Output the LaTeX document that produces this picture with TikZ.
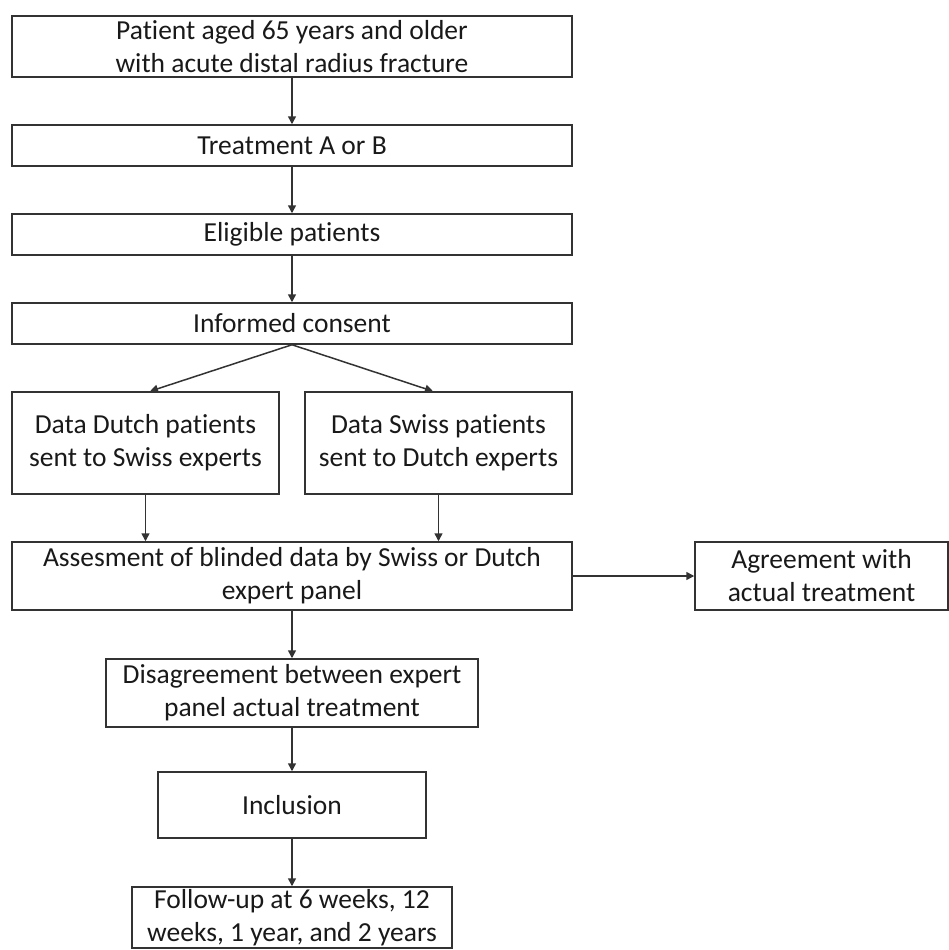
\documentclass[tikz,border=0pt]{standalone}
\usepackage{fontspec}
\setmainfont{Carlito}[Ligatures=NoCommon]
\usetikzlibrary{arrows.meta}
\begin{document}
\begin{tikzpicture}[x=1pt,y=-1pt,
  box/.style={draw=black!80,line width=1.5pt,inner sep=0pt,align=center,font=\fontsize{27.5}{33}\selectfont,text=black!90},
  arr/.style={draw=black!80,line width=1.5pt,-{Triangle[length=8pt,width=8pt]}}]
\useasboundingbox (0,0) rectangle (949,950);
\node[box,minimum width=560pt,minimum height=61pt] (b1) at (292,46.5) {Patient aged 65 years and older\\with acute distal radius fracture};
\node[box,minimum width=560pt,minimum height=41pt] (b2) at (292,145.5) {Treatment A or B};
\node[box,minimum width=560pt,minimum height=41pt] (b3) at (292,234.5) {Eligible patients};
\node[box,minimum width=560pt,minimum height=41pt] (b4) at (292,323.5) {Informed consent};
\node[box,minimum width=267pt,minimum height=102pt] (b5) at (145.5,443) {Data Dutch patients\\sent to Swiss experts};
\node[box,minimum width=267pt,minimum height=102pt] (b6) at (438.5,443) {Data Swiss patients\\sent to Dutch experts};
\node[box,minimum width=560pt,minimum height=68pt] (b7) at (292,576) {Assesment of blinded data by Swiss or Dutch\\expert panel};
\node[box,minimum width=253pt,minimum height=68pt] (b8) at (821.5,576) {Agreement with\\actual treatment};
\node[box,minimum width=372pt,minimum height=68pt] (b9) at (292,693) {Disagreement between expert\\panel actual treatment};
\node[box,minimum width=268pt,minimum height=66pt] (b10) at (292,805) {Inclusion};
\node[box,minimum width=320pt,minimum height=61pt] (b11) at (292,917.5) {Follow-up at 6 weeks, 12\\weeks, 1 year, and 2 years};
\draw[arr] (b1.south) -- (b2.north);
\draw[arr] (b2.south) -- (b3.north);
\draw[arr] (b3.south) -- (b4.north);
\draw[arr] (b4.south) -- ([xshift=4.5pt]b5.north);
\draw[arr] (b4.south) -- ([xshift=-5.5pt]b6.north);
\draw[arr] (b5.south) -- (b5.south |- b7.north);
\draw[arr] (b6.south) -- (b6.south |- b7.north);
\draw[arr] (b7.east) -- (b8.west);
\draw[arr] (b7.south) -- (b9.north);
\draw[arr] (b9.south) -- (b10.north);
\draw[arr] (b10.south) -- (b11.north);
\end{tikzpicture}
\end{document}
